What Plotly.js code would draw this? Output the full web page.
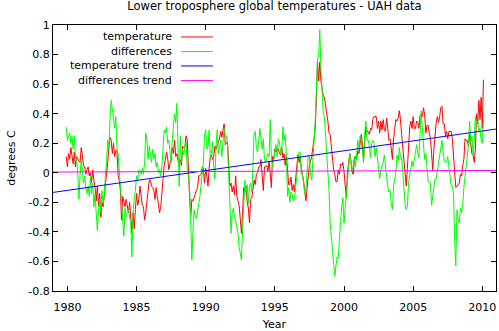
<!DOCTYPE html>
<html><head><meta charset="utf-8">
<script src="https://cdn.plot.ly/plotly-3.0.1.min.js"></script>
<style>html,body{margin:0;padding:0;background:#fff}#chart{width:499px;height:331px}</style>
</head><body><div id="chart"></div><script>
// monthly series, first month = Dec 1979
const firstMonth = 1979 + 11/12;
const temperature = [
0.11,0.04,0.13,0.09,0.17,0.11,0.06,0.14,0.04,0.11,
0.09,0.08,0.07,0.17,0.12,0.05,0.04,-0.01,0.02,0.04,
-0.02,0.00,-0.07,0.02,-0.05,-0.10,-0.19,-0.09,-0.23,-0.14,
-0.30,-0.20,-0.23,-0.16,-0.05,0.02,0.07,0.18,0.24,0.22,
0.13,0.20,0.11,0.15,0.15,-0.02,-0.05,-0.12,-0.32,-0.16,
-0.20,-0.23,-0.18,-0.22,-0.27,-0.20,-0.32,-0.41,-0.27,-0.38,
-0.25,-0.14,-0.22,-0.18,-0.09,-0.18,-0.22,-0.23,-0.32,-0.27,
-0.18,-0.14,-0.05,-0.05,-0.09,-0.10,-0.12,-0.18,-0.10,-0.16,
-0.23,-0.27,-0.23,-0.12,-0.05,0.05,0.09,0.14,0.10,0.02,
0.06,0.09,0.17,0.13,0.22,0.11,0.13,0.07,0.04,0.09,
0.05,0.18,0.17,0.18,0.25,0.22,-0.05,-0.16,-0.30,-0.18,
-0.19,-0.16,-0.15,-0.12,-0.10,-0.02,-0.02,-0.01,0.04,0.03,
-0.07,0.03,-0.02,-0.09,0.03,0.11,0.12,0.09,0.11,0.18,
0.16,0.18,0.21,0.23,0.28,0.24,0.29,0.33,0.19,0.20,
0.21,0.04,-0.09,-0.07,-0.13,-0.09,-0.15,-0.02,-0.16,-0.19,
-0.22,-0.31,-0.41,-0.28,-0.10,-0.13,-0.09,-0.19,-0.24,-0.34,
-0.18,-0.17,-0.12,-0.05,-0.08,-0.01,0.00,0.04,0.04,0.09,
-0.02,-0.12,0.04,0.04,0.05,0.01,0.08,-0.05,-0.10,0.11,
0.09,0.16,0.14,0.17,0.16,0.13,0.12,0.17,0.10,0.13,
0.05,0.12,-0.01,-0.08,-0.08,-0.03,-0.12,-0.08,-0.13,-0.06,
0.03,0.12,0.07,0.11,0.03,-0.01,-0.06,-0.13,-0.19,-0.10,
-0.01,0.05,0.08,0.11,0.17,0.24,0.30,0.49,0.76,0.62,
0.75,0.62,0.58,0.52,0.51,0.44,0.40,0.35,0.27,0.26,
0.16,0.09,0.02,-0.01,-0.06,-0.06,0.02,-0.01,0.06,0.05,
0.07,0.01,-0.08,-0.17,0.00,0.09,0.13,0.08,0.01,-0.01,
0.08,0.11,0.09,0.15,0.13,0.20,0.26,0.19,0.09,0.22,
0.31,0.28,0.28,0.26,0.30,0.29,0.36,0.38,0.38,0.38,
0.30,0.35,0.27,0.35,0.29,0.36,0.29,0.28,0.37,0.29,
0.22,0.23,0.16,0.09,0.23,0.29,0.36,0.35,0.37,0.42,
0.36,0.26,0.16,0.12,0.02,-0.09,0.03,0.22,0.31,0.35,
0.30,0.38,0.30,0.30,0.35,0.34,0.30,0.39,0.39,0.38,
0.44,0.39,0.27,0.32,0.32,0.27,0.23,0.13,0.02,0.16,
0.26,0.34,0.38,0.34,0.38,0.44,0.45,0.33,0.33,0.25,
0.28,0.23,0.28,0.28,0.28,0.23,0.09,-0.01,-0.10,-0.09,
-0.08,-0.07,-0.01,-0.02,0.05,0.09,0.23,0.22,0.22,0.18,
0.26,0.17,0.13,0.12,0.07,0.16,0.40,0.33,0.49,0.36,
0.51,0.30,0.63
];
const differences = [
0.31,0.22,0.25,0.27,0.20,0.25,0.16,0.25,0.11,0.09,
0.00,-0.18,-0.02,0.09,0.02,-0.07,-0.02,-0.11,-0.14,-0.09,
-0.16,-0.02,-0.14,-0.07,-0.23,-0.14,-0.27,-0.39,-0.25,-0.18,
-0.27,-0.12,-0.21,-0.16,-0.02,0.07,0.22,0.16,0.36,0.49,
0.43,0.36,0.30,0.38,0.17,0.13,0.01,-0.12,-0.25,-0.30,
-0.43,-0.24,-0.30,-0.27,-0.25,-0.30,-0.35,-0.57,-0.27,-0.17,
-0.12,-0.02,-0.05,0.02,0.01,-0.01,0.03,-0.01,0.07,0.27,
0.22,0.09,0.18,0.13,0.07,0.16,0.09,0.13,0.04,0.07,
0.00,0.02,-0.02,0.04,0.16,0.29,0.27,0.31,0.20,0.22,
0.15,0.07,0.22,0.31,0.40,0.34,0.47,0.18,-0.09,0.25,
0.07,0.16,0.12,0.18,0.21,0.02,-0.02,-0.09,-0.32,-0.59,
-0.39,-0.25,-0.30,-0.31,-0.26,-0.22,-0.16,-0.08,0.00,0.07,
0.26,0.29,0.16,0.18,0.29,0.10,0.13,0.21,0.04,-0.04,
0.18,0.29,0.13,0.18,0.22,0.11,0.20,0.30,0.25,0.25,
0.18,0.02,-0.21,-0.41,-0.27,-0.24,-0.30,-0.32,-0.36,-0.41,
-0.50,-0.56,-0.59,-0.39,-0.16,-0.05,-0.14,-0.08,-0.21,-0.09,
-0.07,-0.13,0.04,0.27,0.28,0.17,0.14,0.25,0.30,0.23,
0.16,0.23,0.09,0.07,0.10,0.13,0.11,0.36,0.11,0.04,
0.09,0.16,0.19,0.11,0.23,0.21,0.13,0.14,0.31,0.22,
0.26,0.12,-0.16,-0.10,-0.20,-0.13,-0.14,-0.19,-0.18,-0.10,
-0.03,0.09,0.14,0.14,-0.01,-0.01,-0.08,-0.14,-0.10,0.01,
0.12,0.11,-0.02,-0.05,0.08,0.20,0.35,0.55,0.77,0.79,
0.97,0.70,0.48,0.40,0.38,0.25,0.13,0.02,-0.12,-0.34,
-0.44,-0.51,-0.63,-0.70,-0.63,-0.57,-0.58,-0.41,-0.33,-0.23,
-0.17,-0.34,-0.24,-0.14,-0.01,0.09,0.13,0.07,0.01,0.05,
0.11,0.04,0.17,0.22,0.16,0.25,0.22,0.13,0.07,0.27,
0.35,0.22,0.22,0.18,0.10,0.20,0.22,0.20,0.11,0.17,
0.09,0.03,-0.04,0.02,0.04,0.07,0.12,0.03,-0.03,-0.10,
-0.13,-0.12,-0.21,-0.25,-0.09,-0.05,0.00,0.12,0.08,0.17,
0.11,0.11,-0.02,-0.13,-0.21,-0.25,-0.23,-0.07,-0.01,0.04,
0.08,0.04,0.10,0.13,0.19,0.13,0.10,0.26,0.42,0.29,
0.16,0.09,0.13,0.00,-0.06,-0.06,-0.07,-0.22,-0.15,-0.09,
-0.04,-0.04,0.01,0.08,0.14,0.18,0.22,0.14,0.08,0.07,
0.07,0.11,0.03,-0.02,-0.09,-0.09,-0.14,-0.45,-0.63,-0.25,
-0.32,-0.34,-0.24,-0.27,-0.22,-0.10,-0.02,0.04,0.12,0.19,
0.35,0.21,0.25,0.12,0.22,0.38,0.34,0.35,0.28,0.30,
0.22,0.20,0.36
];
// trend lines: values at the two ends of the x range
const trendYears = [1978.96, 2010.99];
const temperatureTrend = [-0.133, 0.296];
const differencesTrend = [0.005, 0.016];
const seriesNames = ["temperature", "differences", "temperature trend", "differences trend"];
const seriesColors = ["#ff0000", "#00ff00", "#0000ff", "#ff00ff"];
const xTickValues = [1980, 1985, 1990, 1995, 2000, 2005, 2010];
const xTickLabels = ["1980", "1985", "1990", "1995", "2000", "2005", "2010"];
const yTickValues = [-0.8, -0.6, -0.4, -0.2, 0, 0.2, 0.4, 0.6, 0.8, 1];
const yTickLabels = ["-0.8", "-0.6", "-0.4", "-0.2", "0", "0.2", "0.4", "0.6", "0.8", "1"];

const months = temperature.map((_, i) => firstMonth + i / 12);
const traces = [
  {x: months, y: temperature, name: seriesNames[0]},
  {x: months, y: differences, name: seriesNames[1]},
  {x: trendYears, y: temperatureTrend, name: seriesNames[2]},
  {x: trendYears, y: differencesTrend, name: seriesNames[3]}
].map((t, k) => Object.assign(t, {type: 'scatter', mode: 'lines', line: {color: seriesColors[k], width: 1}, hoverinfo: 'skip'}));

// gnuplot-style key: right-aligned text, line sample to the right
const keyY = [0.955, 0.900, 0.846, 0.791];
const annotations = seriesNames.map((n, k) => ({
  text: n, xref: 'paper', yref: 'paper', x: 0.273, y: keyY[k],
  xanchor: 'right', yanchor: 'middle', showarrow: false,
  font: {family: 'DejaVu Sans', size: 11, color: '#000'}
}));
const shapes = seriesNames.map((n, k) => ({
  type: 'line', xref: 'paper', yref: 'paper', x0: 0.289, x1: 0.361, y0: keyY[k], y1: keyY[k],
  line: {color: seriesColors[k], width: 1}
}));

const axisCommon = {
  showline: true, linecolor: '#000', linewidth: 1, mirror: 'ticks',
  ticks: 'inside', ticklen: 5, tickwidth: 1, tickcolor: '#000',
  showgrid: false, zeroline: false, fixedrange: true,
  tickfont: {family: 'DejaVu Sans', size: 11, color: '#000'}
};
const layout = {
  width: 499, height: 331,
  margin: {l: 53, r: 3, t: 25, b: 40, pad: 0},
  paper_bgcolor: '#ffffff', plot_bgcolor: '#ffffff',
  font: {family: 'DejaVu Sans', size: 11, color: '#000'},
  showlegend: false,
  title: {text: 'Lower troposphere global temperatures - UAH data', font: {family: 'DejaVu Sans', size: 11.5, color: '#000'},
          xref: 'paper', x: 0.5, xanchor: 'center', yref: 'container', y: 0.981, yanchor: 'middle'},
  xaxis: Object.assign({}, axisCommon, {range: [1978.96, 2010.99], tickmode: 'array', tickvals: xTickValues, ticktext: xTickLabels,
          ticklabelstandoff: 6,
          title: {text: 'Year', standoff: 13, font: {family: 'DejaVu Sans', size: 11, color: '#000'}}}),
  yaxis: Object.assign({}, axisCommon, {range: [-0.8, 1], tickmode: 'array', tickvals: yTickValues, ticktext: yTickLabels,
          title: {text: 'degrees C', standoff: 10, font: {family: 'DejaVu Sans', size: 11, color: '#000'}}}),
  annotations: annotations, shapes: shapes
};
Plotly.newPlot('chart', traces, layout, {staticPlot: true, displayModeBar: false});
</script></body></html>
